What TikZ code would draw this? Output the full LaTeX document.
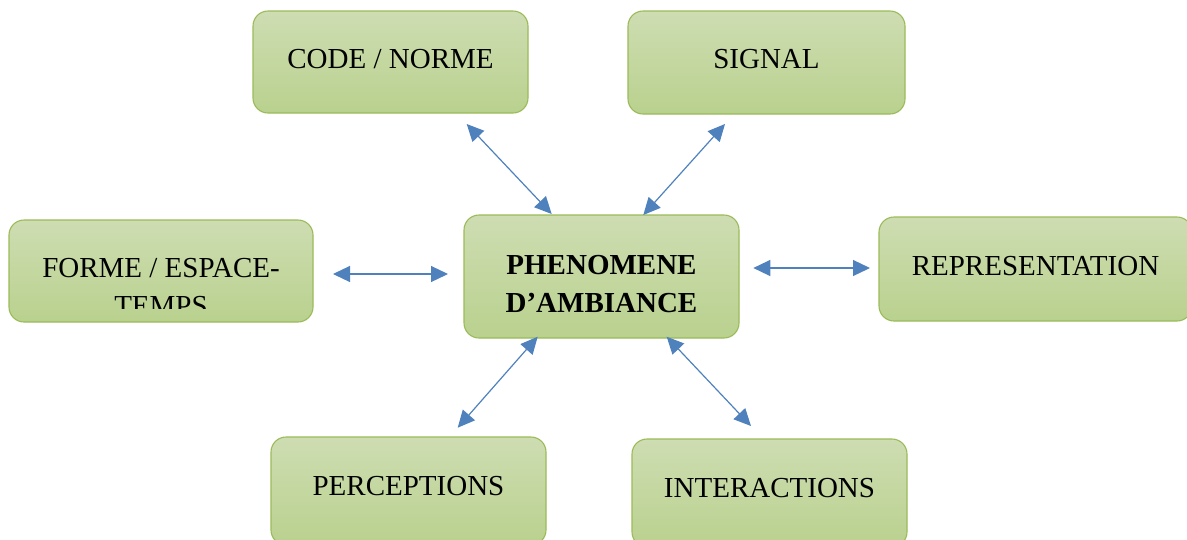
\documentclass[tikz,border=0pt]{standalone}
\usepackage{fontspec}
\setmainfont{Liberation Serif}
\usetikzlibrary{arrows.meta}
\definecolor{boxtop}{RGB}{206,221,178}
\definecolor{boxbot}{RGB}{185,209,142}
\definecolor{boxline}{RGB}{155,187,89}
\definecolor{arrowblue}{RGB}{79,129,189}
\tikzset{
  theme/.style={draw=boxline, line width=1.1pt, rounded corners=15pt,
    top color=boxtop, bottom color=boxbot, inner sep=0pt,
    font=\fontsize{29}{38}\selectfont, text height=20pt, text depth=8pt},
  boxtext/.style={font=\fontsize{29}{38}\selectfont, align=center, inner sep=0pt},
  link/.style={draw=arrowblue, line width=1.2pt,
    {Triangle[length=17pt,width=16pt]}-{Triangle[length=17pt,width=16pt]}}
}
\begin{document}
\begin{tikzpicture}[x=1pt, y=-1pt]
  \useasboundingbox (0,0) rectangle (1187,539);

  % boxes
  \node[theme, minimum width=275pt, minimum height=102pt] (code)   at (390.5,62)  {CODE / NORME};
  \node[theme, minimum width=277pt, minimum height=103pt] (signal) at (766.5,62.5) {SIGNAL};
  \node[theme, minimum width=304pt, minimum height=102pt] (forme)  at (161,271)   {};
  \node[theme, minimum width=275pt, minimum height=123pt] (phen)   at (601.5,276.5) {};
  \node[theme, minimum width=313pt, minimum height=104pt] (repr)   at (1035.5,269) {REPRESENTATION};
  \node[theme, minimum width=275pt, minimum height=108pt, text depth=12pt] (perc)  at (408.5,491) {PERCEPTIONS};
  \node[theme, minimum width=275pt, minimum height=108pt, text depth=12pt] (inter) at (769.5,493) {INTERACTIONS};

  % centre label
  \node[boxtext, font=\fontsize{29}{38}\selectfont\bfseries] (phentext) at (601.5,284) {PHENOMENE\\D’AMBIANCE};

  % overflowing label, cut by the text area
  \begin{scope}
    \clip (9,215) rectangle (313,308);
    \node[boxtext] (formetext) at (161,287) {FORME / ESPACE-\\TEMPS};
  \end{scope}

  % arrow end points
  \coordinate (c1) at (466.7,124);   \coordinate (c2) at (551.7,214);
  \coordinate (s1) at (725,124);     \coordinate (s2) at (643.3,215);
  \coordinate (f1) at (333,274);     \coordinate (f2) at (448,274);
  \coordinate (r1) at (753.3,268);   \coordinate (r2) at (870,268);
  \coordinate (p1) at (537.7,336.7); \coordinate (p2) at (457.7,427.7);
  \coordinate (i1) at (666.7,336.7); \coordinate (i2) at (751,426);

  % double-headed links
  \draw[link] (c1) -- (c2);
  \draw[link] (s1) -- (s2);
  \draw[link] (f1) -- (f2);
  \draw[link] (r1) -- (r2);
  \draw[link] (p1) -- (p2);
  \draw[link] (i1) -- (i2);
\end{tikzpicture}
\end{document}
